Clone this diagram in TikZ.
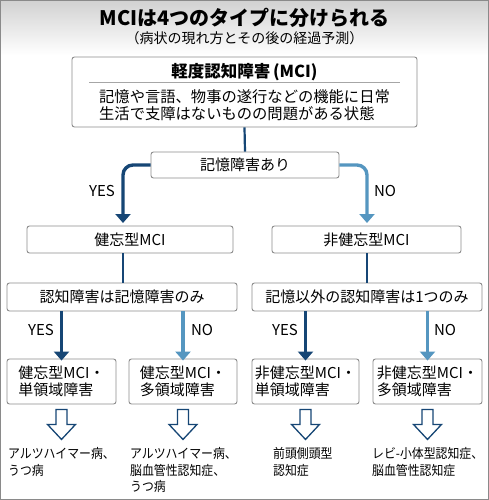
\documentclass[tikz,border=0pt]{standalone}
\usepackage{fontspec}
\setmainfont{Noto Sans CJK JP}
\newfontfamily\condfont{Noto Sans CJK JP}[FakeStretch=0.9]
\usetikzlibrary{arrows.meta}
\definecolor{dkb}{HTML}{164675}
\definecolor{ltb}{HTML}{5596C0}
\definecolor{frm}{HTML}{8A8A8A}
\newcommand\fsz[2]{\fontsize{#1}{#2}\selectfont}
\begin{document}
\begin{tikzpicture}[x=1pt,y=-1pt,
  box/.style={draw=black!45, rounded corners=2.5pt, fill=white, line width=0.9pt, inner sep=0pt, font=\fsz{15}{17}},
  thin/.style={dkb, line width=2.2pt},
  yesarr/.style={dkb, line width=3.4pt, rounded corners=10pt, -{Triangle[width=15pt,length=9pt]}},
  noarr/.style={ltb, line width=3.4pt, rounded corners=10pt, -{Triangle[width=15pt,length=9pt]}},
  lab/.style={font=\fsz{15}{17}, inner sep=0pt},
  res/.style={font=\condfont\fsz{13.2}{16.5}, align=left, anchor=north west, inner sep=0pt},
  hollow/.pic={\draw[dkb, line width=1.3pt, line join=miter, fill=white]
     (-5.5,0) -- (5.5,0) -- (5.5,15) -- (14,15) -- (0,30) -- (-14,15) -- (-5.5,15) -- cycle;}
]
\useasboundingbox (0,0) rectangle (489,500);
\fill[white] (0,0) rectangle (489,500);
\shade[top color=black!18, bottom color=white] (0,0) rectangle (489,55);
\draw[frm, line width=1pt] (0.5,0.5) rectangle (488.5,499.5);

% title
\node[font=\bfseries\fsz{20}{24}] (title) at (244.5,18) {MCIは4つのタイプに分けられる};
\node[font=\fsz{14}{16}] (sub) at (244.5,38) {（病状の現れ方とその後の経過予測）};

% top box
\node[box, minimum width=345pt, minimum height=70pt] (top) at (244.5,92) {};
\node[font=\bfseries\fsz{16.5}{18}, inner sep=0pt] (toph) at (244.5,72) {軽度認知障害\,(MCI)};
\draw[black!35, line width=1.6pt] (89,82.5) -- (400,82.5);
\node[font=\fsz{15.3}{16.5}, align=left, inner sep=0pt] (topb) at (244.5,105)
  {記憶や言語、物事の遂行などの機能に日常\\生活で支障はないものの問題がある状態};

% question 1
\node[box, minimum width=188pt, minimum height=26pt] (q1) at (245,165) {記憶障害あり};
\draw[thin] (top.south) -- (q1.north);

% level 2
\node[box, minimum width=206pt, minimum height=27pt] (a1) at (130,239.5) {健忘型MCI};
\node[box, minimum width=189pt, minimum height=27pt] (a2) at (366.5,239.5) {非健忘型MCI};
\coordinate (y1) at (123,223);
\coordinate (n1) at (367,223);
\draw[yesarr] (q1.west) -| (y1);
\draw[noarr] (q1.east) -| (n1);
\node[lab] (ly1) at (102,191) {YES};
\node[lab] (ln1) at (385,191) {NO};

% level 3
\node[box, minimum width=230pt, minimum height=28pt] (b1) at (122,297) {認知障害は記憶障害のみ};
\node[box, minimum width=230pt, minimum height=28pt] (b2) at (367,297) {記憶以外の認知障害は1つのみ};
\draw[thin] (a1.south -| y1) -- (b1.north -| y1);
\draw[thin] (a2.south -| n1) -- (b2.north -| n1);

% level 4
\node[box, minimum width=109pt, minimum height=45pt, align=left, font=\fsz{15}{17}] (c1) at (61.5,381.5) {健忘型MCI・\\単領域障害};
\node[box, minimum width=108pt, minimum height=45pt, align=left, font=\fsz{15}{17}] (c2) at (183,381.5) {健忘型MCI・\\多領域障害};
\node[box, minimum width=107pt, minimum height=45pt, align=left, font=\fsz{15}{17}] (c3) at (305.5,381.5) {非健忘型MCI・\\単領域障害};
\node[box, minimum width=109pt, minimum height=45pt, align=left, font=\fsz{15}{17}] (c4) at (427.5,381.5) {非健忘型MCI・\\多領域障害};

\draw[yesarr] (b1.south -| c1.north) -- ([yshift=-2pt]c1.north);
\draw[noarr]  (b1.south -| c2.north) -- ([yshift=-2pt]c2.north);
\draw[yesarr] (b2.south -| c3.north) -- ([yshift=-2pt]c3.north);
\draw[noarr]  (b2.south -| c4.north) -- ([yshift=-2pt]c4.north);
\node[lab] (ly2) at (41,330) {YES};
\node[lab] (ln2) at (202,330) {NO};
\node[lab] (ly3) at (285,330) {YES};
\node[lab] (ln3) at (445,330) {NO};

% hollow arrows
\path (c1.south) ++(0,5) pic {hollow};
\path (c2.south) ++(0,5) pic {hollow};
\path (c3.south) ++(0,5) pic {hollow};
\path (c4.south) ++(0,5) pic {hollow};

% results
\node[res] (d1) at (8,447.5) {アルツハイマー病、\\うつ病};
\node[res] (d2) at (130,447.5) {アルツハイマー病、\\脳血管性認知症、\\うつ病};
\node[res] (d3) at (273,447.5) {前頭側頭型\\認知症};
\node[res] (d4) at (372,447.5) {レビ-小体型認知症、\\脳血管性認知症};
\end{tikzpicture}
\end{document}
